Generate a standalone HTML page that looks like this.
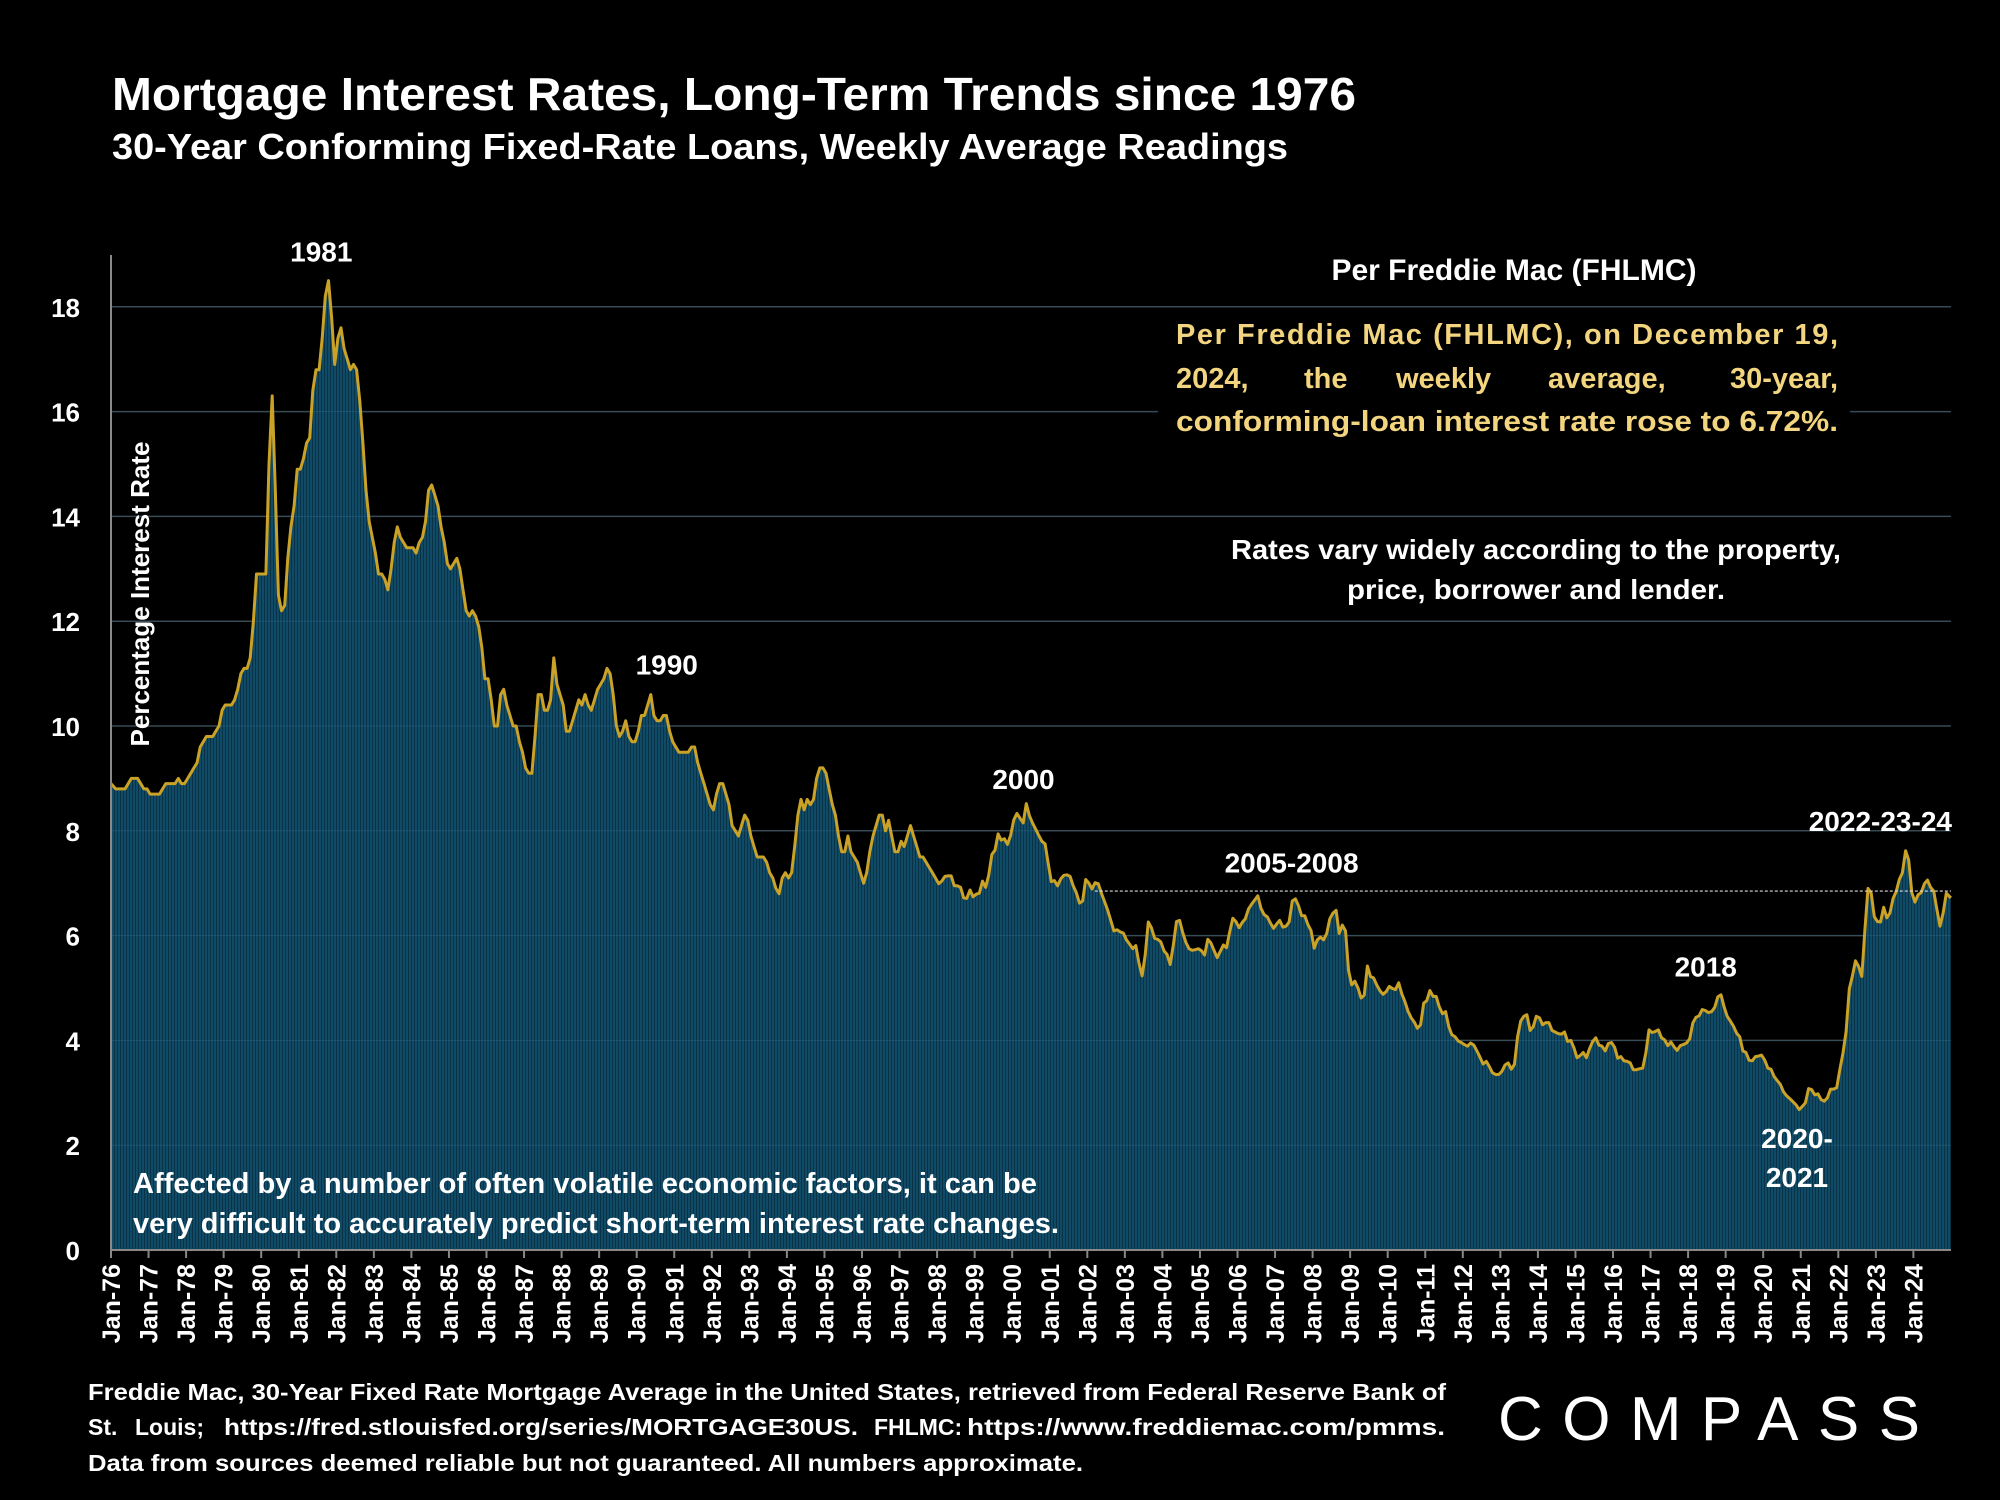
<!DOCTYPE html>
<html><head><meta charset="utf-8"><style>
html,body{margin:0;padding:0;background:#000;}
svg{display:block;font-family:"Liberation Sans",sans-serif;font-weight:bold;}
</style></head><body>
<svg id="chart" width="2000" height="1500" viewBox="0 0 2000 1500" xmlns="http://www.w3.org/2000/svg">
<defs>
<pattern id="stripes" width="3" height="10" patternUnits="userSpaceOnUse">
<rect width="3" height="10" fill="#0f4a66"/><rect width="1" height="10" fill="#0a3247"/>
</pattern>
</defs>
<rect width="2000" height="1500" fill="#000"/>
<text x="112" y="110" font-size="46" fill="#fff" textLength="1244" lengthAdjust="spacingAndGlyphs">Mortgage Interest Rates, Long-Term Trends since 1976</text>
<text x="112" y="159" font-size="36" fill="#fff" textLength="1176" lengthAdjust="spacingAndGlyphs">30-Year Conforming Fixed-Rate Loans, Weekly Average Readings</text>
<g id="grid"></g>
<g id="series"></g>
<g id="axes"></g>
<rect x="1158" y="316" width="692" height="128" fill="#000"/>
<text x="1514" y="280" font-size="30" fill="#fff" text-anchor="middle">Per Freddie Mac (FHLMC)</text>
<g font-size="29" fill="#f2d57e">
<text x="1176" y="344" textLength="662" lengthAdjust="spacing">Per Freddie Mac (FHLMC), on December 19,</text>
<text x="1176" y="388">2024,</text>
<text x="1304" y="388">the</text>
<text x="1396" y="388">weekly</text>
<text x="1548" y="388">average,</text>
<text x="1838" y="388" text-anchor="end">30-year,</text>
<text x="1176" y="431" textLength="662" lengthAdjust="spacingAndGlyphs">conforming-loan interest rate rose to 6.72%.</text>
</g>
<g font-size="28" fill="#fff" text-anchor="middle">
<text x="1536" y="559" textLength="610" lengthAdjust="spacingAndGlyphs">Rates vary widely according to the property,</text>
<text x="1536" y="599" textLength="378" lengthAdjust="spacingAndGlyphs">price, borrower and lender.</text>
</g>
<g font-size="29" fill="#fff">
<text x="133" y="1193" textLength="904" lengthAdjust="spacingAndGlyphs">Affected by a number of often volatile economic factors, it can be</text>
<text x="133" y="1233" textLength="926" lengthAdjust="spacingAndGlyphs">very difficult to accurately predict short-term interest rate changes.</text>
</g>
<g font-size="23" fill="#fff">
<text x="88" y="1400" textLength="1358" lengthAdjust="spacingAndGlyphs">Freddie Mac, 30-Year Fixed Rate Mortgage Average in the United States, retrieved from Federal Reserve Bank of</text>
<text x="88" y="1435">St.</text>
<text x="135" y="1435">Louis;</text>
<text x="224" y="1435" textLength="634" lengthAdjust="spacingAndGlyphs">https://fred.stlouisfed.org/series/MORTGAGE30US.</text>
<text x="874" y="1435">FHLMC:</text>
<text x="1445" y="1435" text-anchor="end" textLength="478" lengthAdjust="spacingAndGlyphs">https://www.freddiemac.com/pmms.</text>
<text x="88" y="1471" textLength="995" lengthAdjust="spacingAndGlyphs">Data from sources deemed reliable but not guaranteed. All numbers approximate.</text>
</g>
<text x="1498" y="1440" font-size="62" font-weight="normal" fill="#fff" textLength="422" lengthAdjust="spacing">COMPASS</text>
</svg>
<script>
const startYear = 1976;
const yTicks = [0,2,4,6,8,10,12,14,16,18];
const refRate = 6.85;
const refStart = 2002.2;
const annotations = ["1981","1990","2000","2005-2008","2018","2020-","2021","2022-23-24"];
const annotationYears = [1981.6,1990.8,2000.3,2007.44,2018.47,2020.9,2020.9,2023.12];
const annotationRates = [18.86,10.98,8.8,7.2,5.22,1.95,1.2,8.0];
const rates = [
8.9,8.8,8.8,8.8,8.8,8.9,9.0,9.0,9.0,8.9,8.8,8.8,
8.7,8.7,8.7,8.7,8.8,8.9,8.9,8.9,8.9,9.0,8.9,8.9,
9.0,9.1,9.2,9.3,9.6,9.7,9.8,9.8,9.8,9.9,10.0,10.3,
10.4,10.4,10.4,10.5,10.7,11.0,11.1,11.1,11.3,12.0,12.9,12.9,
12.9,12.9,15.0,16.3,14.5,12.5,12.2,12.3,13.2,13.8,14.2,14.9,
14.9,15.1,15.4,15.5,16.4,16.8,16.8,17.4,18.2,18.5,17.8,16.9,
17.4,17.6,17.2,17.0,16.8,16.9,16.8,16.2,15.4,14.5,13.9,13.6,
13.3,12.9,12.9,12.8,12.6,13.0,13.5,13.8,13.6,13.5,13.4,13.4,
13.4,13.3,13.5,13.6,13.9,14.5,14.6,14.4,14.2,13.8,13.5,13.1,
13.0,13.1,13.2,13.0,12.6,12.2,12.1,12.2,12.1,11.9,11.5,10.9,
10.9,10.5,10.0,10.0,10.6,10.7,10.4,10.2,10.0,10.0,9.7,9.5,
9.2,9.1,9.1,9.8,10.6,10.6,10.3,10.3,10.5,11.3,10.8,10.6,
10.4,9.9,9.9,10.1,10.3,10.5,10.4,10.6,10.4,10.3,10.5,10.7,
10.8,10.9,11.1,11.0,10.6,10.0,9.8,9.9,10.1,9.8,9.7,9.7,
9.9,10.2,10.2,10.4,10.6,10.2,10.1,10.1,10.2,10.2,9.9,9.7,
9.6,9.5,9.5,9.5,9.5,9.6,9.6,9.3,9.1,8.9,8.7,8.5,
8.4,8.7,8.9,8.9,8.7,8.5,8.1,8.0,7.9,8.1,8.3,8.2,
7.9,7.7,7.5,7.5,7.5,7.4,7.2,7.1,6.9,6.8,7.1,7.2,
7.1,7.2,7.7,8.3,8.6,8.4,8.6,8.5,8.6,9.0,9.2,9.2,
9.1,8.8,8.5,8.3,7.9,7.6,7.6,7.9,7.6,7.5,7.4,7.2,
7.0,7.2,7.6,7.9,8.1,8.3,8.3,8.0,8.2,7.9,7.6,7.6,
7.8,7.7,7.9,8.1,7.9,7.7,7.5,7.5,7.4,7.3,7.2,7.1,
6.99,7.04,7.13,7.14,7.14,6.95,6.95,6.92,6.72,6.71,6.87,6.74,
6.79,6.81,7.04,6.92,7.15,7.55,7.63,7.94,7.82,7.85,7.74,7.91,
8.21,8.33,8.24,8.15,8.52,8.29,8.15,8.03,7.91,7.80,7.75,7.38,
7.03,7.05,6.95,7.08,7.15,7.16,7.13,6.95,6.82,6.62,6.66,7.07,
7.00,6.89,7.01,6.99,6.81,6.65,6.49,6.29,6.09,6.11,6.07,6.05,
5.92,5.84,5.75,5.81,5.48,5.23,5.63,6.26,6.15,5.95,5.93,5.88,
5.71,5.64,5.45,5.83,6.27,6.29,6.06,5.87,5.75,5.72,5.73,5.75,
5.71,5.63,5.93,5.86,5.72,5.58,5.70,5.82,5.77,6.07,6.33,6.27,
6.15,6.25,6.32,6.51,6.60,6.68,6.76,6.52,6.40,6.36,6.24,6.14,
6.22,6.29,6.16,6.18,6.26,6.66,6.70,6.57,6.38,6.38,6.21,6.10,
5.76,5.92,5.97,5.92,6.04,6.32,6.43,6.48,6.04,6.20,6.09,5.33,
5.06,5.13,5.00,4.81,4.86,5.42,5.22,5.19,5.06,4.95,4.88,4.93,
5.03,4.99,4.97,5.10,4.89,4.74,4.56,4.43,4.35,4.23,4.30,4.71,
4.76,4.95,4.84,4.84,4.64,4.51,4.55,4.27,4.11,4.07,3.99,3.96,
3.92,3.89,3.95,3.91,3.80,3.68,3.55,3.60,3.50,3.38,3.35,3.35,
3.41,3.53,3.57,3.45,3.54,4.07,4.37,4.46,4.49,4.19,4.26,4.46,
4.43,4.30,4.34,4.34,4.19,4.16,4.13,4.12,4.16,3.98,4.00,3.86,
3.67,3.71,3.77,3.67,3.84,3.98,4.05,3.91,3.89,3.80,3.94,3.96,
3.87,3.66,3.69,3.61,3.60,3.57,3.44,3.44,3.46,3.47,3.77,4.20,
4.15,4.17,4.20,4.05,4.01,3.90,3.97,3.88,3.81,3.90,3.92,3.95,
4.03,4.33,4.44,4.47,4.59,4.57,4.53,4.55,4.63,4.83,4.87,4.64,
4.46,4.37,4.27,4.14,4.07,3.80,3.77,3.62,3.61,3.69,3.70,3.72,
3.62,3.47,3.45,3.31,3.23,3.16,3.02,2.94,2.89,2.83,2.77,2.68,
2.74,2.81,3.08,3.06,2.96,2.98,2.87,2.84,2.90,3.07,3.07,3.10,
3.45,3.76,4.17,4.98,5.23,5.52,5.41,5.22,6.11,6.90,6.81,6.36,
6.27,6.26,6.54,6.34,6.43,6.71,6.84,7.07,7.20,7.62,7.44,6.82,
6.64,6.78,6.82,6.99,7.06,6.92,6.85,6.50,6.18,6.43,6.81,6.72
];
const NS="http://www.w3.org/2000/svg";
const X0=111, YW=37.55, Y0=1250, YU=52.4, XR=111+49*37.55;
function xs(year){return X0+(year-startYear)*YW;}
function ys(v){return Y0-v*YU;}
function mk(tag,attrs,parent){const e=document.createElementNS(NS,tag);for(const k in attrs)e.setAttribute(k,attrs[k]);parent.appendChild(e);return e;}
const grid=document.getElementById('grid'), series=document.getElementById('series'), axes=document.getElementById('axes');
yTicks.forEach(v=>{
  if(v>0){const l=mk('line',{x1:X0,x2:XR,y1:ys(v),y2:ys(v),stroke:'#3c3c3c','stroke-width':1.5},grid);
  
  }
  const t=mk('text',{x:80,y:ys(v)+10,'font-size':26,fill:'#fff','text-anchor':'end'},axes);
  t.textContent=v;
  
  
});
let pts=rates.map((r,i)=>[xs(startYear+(i+0.5)/12),ys(r)]);
pts[0][0]=X0; pts[pts.length-1][0]=XR;
let d='M'+X0+','+Y0+' '+pts.map(p=>'L'+p[0].toFixed(1)+','+p[1].toFixed(1)).join(' ')+' L'+XR+','+Y0+'Z';
const area=mk('path',{d:d,fill:'url(#stripes)'},series);


yTicks.forEach(v=>{if(v>0){const l=mk('line',{x1:X0,x2:XR,y1:ys(v),y2:ys(v),stroke:'#2d6580','stroke-width':1,opacity:0.5},series);

}});
const line=mk('polyline',{points:pts.map(p=>p[0].toFixed(1)+','+p[1].toFixed(1)).join(' '),fill:'none',stroke:'#c9a227','stroke-width':3,'stroke-linejoin':'round'},series);


const ref=mk('line',{x1:xs(refStart),x2:XR,y1:ys(refRate),y2:ys(refRate),stroke:'#ddd','stroke-width':1.2,'stroke-dasharray':'3,2'},series);


const ya=mk('line',{x1:X0,x2:X0,y1:255,y2:Y0,stroke:'#888','stroke-width':2},axes);


const xa=mk('line',{x1:X0,x2:XR,y1:Y0,y2:Y0,stroke:'#888','stroke-width':2},axes);


for(let y=startYear;y<=2024;y++){
  const x=xs(y);
  const tk=mk('line',{x1:x,x2:x,y1:Y0,y2:Y0+8,stroke:'#888','stroke-width':2},axes);
  
  
  const lab='Jan-'+String(y%100).padStart(2,'0');
  const t=mk('text',{x:0,y:0,'font-size':25,fill:'#fff','text-anchor':'end',transform:'translate('+(x+9)+','+(Y0+14)+') rotate(-90)'},axes);
  t.textContent=lab;
  
  
}
const yt=mk('text',{x:0,y:0,'font-size':26,fill:'#fff','text-anchor':'middle',transform:'translate(149,594) rotate(-90)'},axes);
yt.textContent='Percentage Interest  Rate';


annotations.forEach((a,i)=>{
  const t=mk('text',{x:xs(annotationYears[i]),y:ys(annotationRates[i]),'font-size':28,fill:'#fff','text-anchor':'middle'},axes);
  t.textContent=a;
  
  
});
</script>
</body></html>
